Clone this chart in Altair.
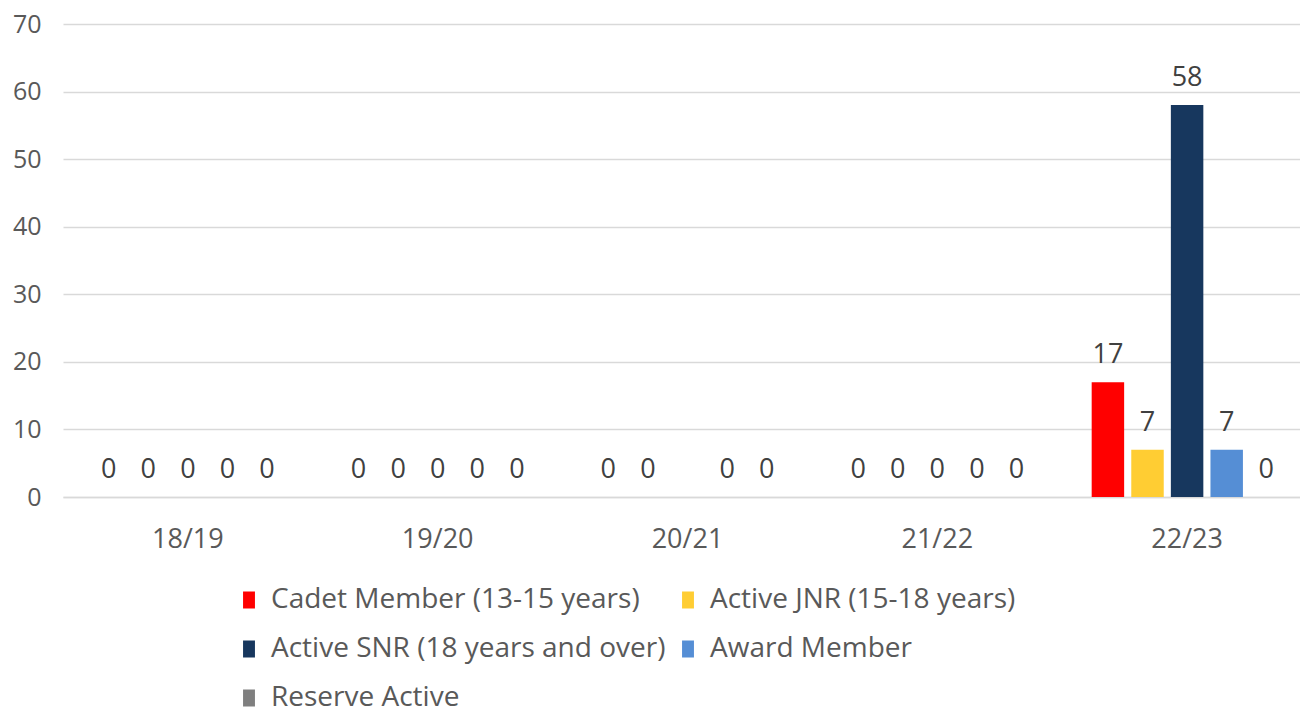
import altair as alt
import pandas as pd

years = ["18/19", "19/20", "20/21", "21/22", "22/23"]
series = [
    "Cadet Member (13-15 years)",
    "Active JNR (15-18 years)",
    "Active SNR (18 years and over)",
    "Award Member",
    "Reserve Active",
]
colors = ["#FF0000", "#FFCD33", "#17375E", "#558ED5", "#7F7F7F"]

cadet = [0, 0, 0, 0, 17]
jnr = [0, 0, 0, 0, 7]
snr = [0, 0, None, 0, 58]
award = [0, 0, 0, 0, 7]
reserve = [0, 0, 0, 0, 0]

values = [cadet, jnr, snr, award, reserve]
rows = []
for s, vals in zip(series, values):
    for y, v in zip(years, vals):
        rows.append({"year": y, "series": s, "value": v})
df = pd.DataFrame(rows)

FONT = "Open Sans"

x = alt.X("year:N", sort=years, title=None,
          scale=alt.Scale(range=[0, 1249], paddingInner=0.236, paddingOuter=0.118),
          axis=alt.Axis(labelAngle=0, labelFontSize=27, labelColor="#595959",
                        labelFont=FONT, ticks=False, domain=True,
                        domainColor="#D9D9D9", domainWidth=1.5,
                        labelPadding=29))
xo = alt.XOffset("series:N", sort=series,
                 scale=alt.Scale(paddingInner=0.18, paddingOuter=0))

base = alt.Chart(df)

bars = base.mark_bar().encode(
    x=x,
    xOffset=xo,
    y=alt.Y("value:Q", title=None,
            scale=alt.Scale(domain=[0, 70]),
            axis=alt.Axis(values=[0, 10, 20, 30, 40, 50, 60, 70],
                          labelFontSize=25, labelColor="#595959",
                          labelFont=FONT, ticks=False, domain=False,
                          gridColor="#D9D9D9", gridWidth=1.5,
                          labelPadding=22)),
    color=alt.Color("series:N", sort=series,
                    scale=alt.Scale(domain=series, range=colors),
                    legend=alt.Legend(
                        title=None, orient="none", legendX=172, legendY=562,
                        columns=2, direction="horizontal",
                        symbolType="M-0.7,-1H0.7V1H-0.7Z",
                        symbolSize=289, symbolStrokeWidth=0,
                        labelFontSize=28, labelColor="#595959",
                        labelFont=FONT, labelLimit=600, labelOffset=8,
                        rowPadding=21, columnPadding=8)),
)

labels = base.mark_text(baseline="alphabetic", dy=-19, fontSize=27,
                        color="#404040", font=FONT).encode(
    x=alt.X("year:N", sort=years),
    xOffset=xo,
    y="value:Q",
    text=alt.Text("value:Q"),
)

chart = (bars + labels).properties(
    width=1237, height=473,
    autosize=alt.AutoSizeParams(type="none"),
    padding={"left": 55, "top": 16, "right": 0, "bottom": 217},
).configure_view(stroke=None)

chart.save("out.html", embed_options={"renderer": "svg", "actions": False})
